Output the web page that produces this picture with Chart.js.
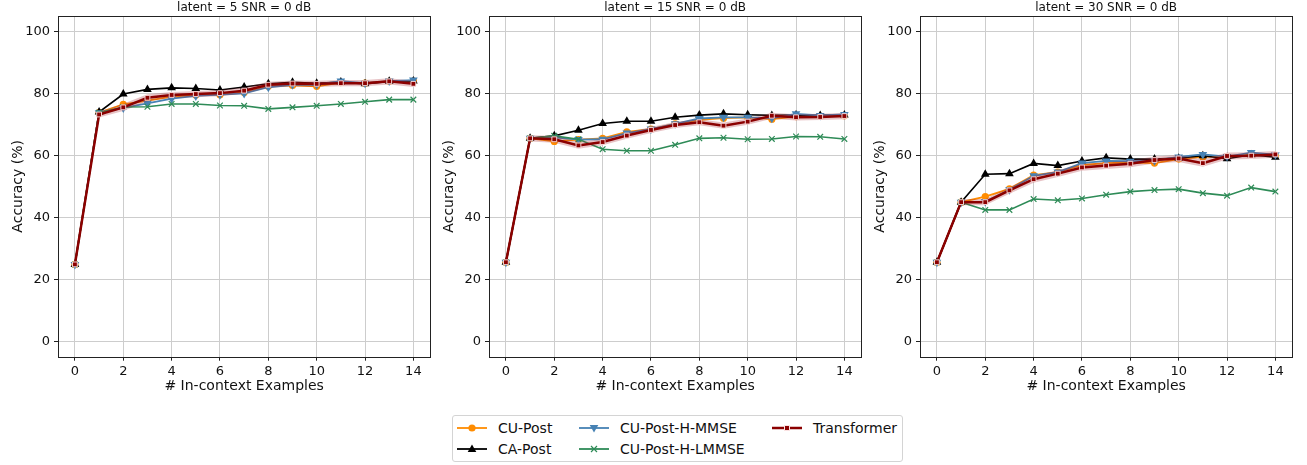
<!DOCTYPE html>
<html>
<head>
<meta charset="utf-8">
<script src="https://cdn.jsdelivr.net/npm/chart.js@4.4.1/dist/chart.umd.min.js"></script>
<style>
  body { margin: 0; background: #fff; }
  #wrap { position: relative; width: 1307px; height: 465px; overflow: hidden; font-family: 'DejaVu Sans', sans-serif; }
  #wrap canvas { position: absolute; top: 0; }
  #legend { position: absolute; left: 452px; top: 415px; width: 449px; height: 45px; border: 1px solid #d4d4d4; border-radius: 3px; background: #fff; }
  #legend .item { position: absolute; height: 16px; }
  #legend svg { position: absolute; top: 1px; }
  #legend span { position: absolute; font-size: 14px; line-height: 16px; color: #111; white-space: nowrap; }
</style>
</head>
<body>
<div id="wrap">
  <canvas id="c5" width="440" height="400" style="left:0px"></canvas>
  <canvas id="c15" width="440" height="400" style="left:431px"></canvas>
  <canvas id="c30" width="440" height="400" style="left:862px"></canvas>
  <div id="legend"></div>
</div>
<script>
var steps = [0, 1, 2, 3, 4, 5, 6, 7, 8, 9, 10, 11, 12, 13, 14];
var xTicks = [0, 2, 4, 6, 8, 10, 12, 14];
var yTicks = [0, 20, 40, 60, 80, 100];

// latent = 5
var cuPost5  = [24.8, 73.8, 76.5, 77.7, 79.0, 79.5, 79.6, 80.3, 82.3, 82.6, 82.3, 83.5, 83.3, 83.9, 84.0];
var caPost5  = [24.8, 74.0, 79.8, 81.3, 81.8, 81.6, 81.1, 82.1, 83.1, 83.6, 83.3, 83.7, 83.1, 83.9, 84.0];
var mmse5    = [24.8, 73.8, 75.3, 76.8, 78.3, 79.2, 79.6, 80.0, 82.0, 82.8, 82.8, 84.0, 83.3, 84.0, 84.3];
var lmmse5   = [24.8, 73.8, 75.6, 75.7, 76.6, 76.6, 76.1, 76.0, 75.0, 75.5, 76.0, 76.6, 77.3, 78.0, 78.0];
var trans5   = [24.8, 73.2, 75.5, 78.6, 79.5, 79.8, 80.1, 80.9, 82.8, 83.2, 83.1, 83.3, 83.3, 83.9, 83.1];
var band5    = [0.6, 1.0, 1.2, 1.1, 1.0, 1.0, 1.0, 1.0, 1.0, 1.0, 1.0, 1.0, 1.0, 1.0, 1.0];

// latent = 15
var cuPost15 = [25.5, 65.5, 64.5, 65.1, 65.5, 67.6, 68.5, 70.2, 71.5, 72.0, 72.3, 71.7, 72.5, 72.6, 72.8];
var caPost15 = [25.5, 65.5, 66.3, 68.1, 70.3, 71.0, 71.0, 72.3, 73.0, 73.4, 73.1, 72.9, 73.0, 72.9, 73.0];
var mmse15   = [25.5, 65.5, 65.8, 65.1, 65.2, 67.2, 68.5, 70.2, 71.9, 72.3, 72.3, 72.0, 73.4, 72.9, 73.2];
var lmmse15  = [25.5, 65.5, 66.3, 65.2, 62.0, 61.5, 61.5, 63.4, 65.5, 65.7, 65.2, 65.3, 66.1, 66.0, 65.3];
var trans15  = [25.5, 65.5, 65.2, 63.2, 64.3, 66.4, 68.2, 69.8, 70.7, 69.6, 70.9, 72.8, 72.3, 72.4, 72.7];
var band15   = [0.6, 1.0, 1.1, 1.1, 1.0, 1.0, 1.0, 1.0, 1.0, 1.0, 1.0, 1.0, 1.0, 1.0, 1.0];

// latent = 30
var cuPost30 = [25.5, 44.9, 46.7, 49.2, 53.6, 54.6, 56.9, 57.5, 57.7, 57.5, 58.8, 59.5, 59.6, 60.3, 60.0];
var caPost30 = [25.5, 44.9, 53.9, 54.1, 57.4, 56.7, 58.2, 59.2, 58.8, 58.8, 59.1, 59.9, 58.9, 60.2, 59.4];
var mmse30   = [25.5, 44.9, 45.1, 48.9, 53.4, 54.6, 57.5, 58.2, 58.1, 58.3, 59.5, 60.3, 59.6, 60.9, 60.2];
var lmmse30  = [25.5, 44.9, 42.4, 42.4, 45.9, 45.5, 46.1, 47.3, 48.3, 48.8, 49.1, 47.8, 47.0, 49.6, 48.3];
var trans30  = [25.5, 44.9, 44.9, 48.7, 52.3, 54.1, 56.1, 56.7, 57.3, 58.5, 59.0, 57.5, 59.8, 59.9, 60.3];
var band30   = [0.6, 1.0, 1.0, 1.1, 1.1, 1.1, 1.1, 1.1, 1.1, 1.1, 1.1, 1.2, 1.1, 1.1, 1.1];

var colors = {
    cuPost: '#ff8c00',
    caPost: '#000000',
    mmse: '#4682b4',
    lmmse: '#2e8b57',
    trans: '#8b0000'
};

Chart.defaults.font.family = "'DejaVu Sans', sans-serif";
Chart.defaults.color = '#111';
Chart.defaults.animation = false;

function pts(vals) {
    return steps.map(function (s, i) { return { x: s, y: vals[i] }; });
}

function offsetPts(vals, band, sign) {
    return steps.map(function (s, i) { return { x: s, y: vals[i] + sign * band[i] }; });
}

// panel title + full axes frame (matplotlib style spines)
var framePlugin = {
    id: 'frame',
    afterDraw: function (chart) {
        var a = chart.chartArea, ctx = chart.ctx;
        ctx.save();
        ctx.strokeStyle = '#222';
        ctx.lineWidth = 1;
        ctx.strokeRect(Math.round(a.left) + 0.5, Math.round(a.top) + 0.5,
            Math.round(a.right - a.left), Math.round(a.bottom - a.top));
        ctx.fillStyle = '#111';
        ctx.font = "12px 'DejaVu Sans'";
        ctx.textAlign = 'center';
        ctx.textBaseline = 'alphabetic';
        ctx.fillText(chart.options.plugins.frame.text, (a.left + a.right) / 2, a.top - 5.5);
        ctx.restore();
    }
};

function makePanel(id, title, cu, ca, mm, lm, tr, band) {
    return new Chart(document.getElementById(id), {
        type: 'line',
        data: {
            datasets: [
                {
                    label: 'CU-Post', data: pts(cu), order: 5,
                    borderColor: colors.cuPost, backgroundColor: colors.cuPost,
                    borderWidth: 1.8, pointStyle: 'circle', pointRadius: 3.6, pointBorderWidth: 0
                },
                {
                    label: 'CA-Post', data: pts(ca), order: 4,
                    borderColor: colors.caPost, backgroundColor: colors.caPost,
                    borderWidth: 1.6, pointStyle: 'triangle', pointRadius: 5, pointBorderWidth: 0
                },
                {
                    label: 'CU-Post-H-MMSE', data: pts(mm), order: 3,
                    borderColor: colors.mmse, backgroundColor: colors.mmse,
                    borderWidth: 1.8, pointStyle: 'triangle', pointRotation: 180, pointRadius: 5, pointBorderWidth: 0
                },
                {
                    label: 'CU-Post-H-LMMSE', data: pts(lm), order: 2,
                    borderColor: colors.lmmse, backgroundColor: colors.lmmse,
                    borderWidth: 1.6, pointStyle: 'crossRot', pointRadius: 4, pointBorderWidth: 1.2
                },
                {
                    label: 'band-upper', data: offsetPts(tr, band, 1), order: 1,
                    borderWidth: 0, pointRadius: 0, fill: false
                },
                {
                    label: 'band-lower', data: offsetPts(tr, band, -1), order: 1,
                    borderWidth: 0, pointRadius: 0, fill: '-1',
                    backgroundColor: 'rgba(170, 40, 50, 0.28)'
                },
                {
                    label: 'Transformer', data: pts(tr), order: 0,
                    borderColor: colors.trans, backgroundColor: colors.trans,
                    borderWidth: 2.5, pointStyle: 'rect', pointRadius: 3.4,
                    pointBorderWidth: 1, pointBorderColor: 'rgba(255,230,230,0.9)'
                }
            ]
        },
        options: {
            responsive: false,
            devicePixelRatio: 1,
            layout: { padding: { top: 16, right: 9.7, bottom: 0, left: 0 } },
            elements: { line: { tension: 0 } },
            plugins: {
                legend: { display: false },
                tooltip: { enabled: false },
                frame: { text: title }
            },
            scales: {
                x: {
                    type: 'linear', min: -0.7, max: 14.7,
                    afterFit: function (scale) { scale.height = 43.3; },
                    afterBuildTicks: function (scale) {
                        scale.ticks = xTicks.map(function (v) { return { value: v }; });
                    },
                    ticks: { font: { size: 13 }, padding: 3, maxRotation: 0, color: '#111' },
                    grid: { color: '#cdcdcd', lineWidth: 1, tickLength: 4, tickColor: '#222' },
                    border: { display: false },
                    title: {
                        display: true, text: '# In-context Examples',
                        font: { size: 14 }, padding: { top: 0, bottom: 5.5 }, color: '#111'
                    }
                },
                y: {
                    min: -5, max: 105,
                    afterFit: function (scale) { scale.width = 58; },
                    afterBuildTicks: function (scale) {
                        scale.ticks = yTicks.map(function (v) { return { value: v }; });
                    },
                    ticks: { font: { size: 13 }, padding: 4, color: '#111' },
                    grid: { color: '#cdcdcd', lineWidth: 1, tickLength: 4, tickColor: '#222' },
                    border: { display: false },
                    title: {
                        display: true, text: 'Accuracy (%)',
                        font: { size: 14 }, padding: { top: 9.6, bottom: 0 }, color: '#111'
                    }
                }
            }
        },
        plugins: [framePlugin]
    });
}

makePanel('c5', 'latent = 5 SNR = 0 dB', cuPost5, caPost5, mmse5, lmmse5, trans5, band5);
makePanel('c15', 'latent = 15 SNR = 0 dB', cuPost15, caPost15, mmse15, lmmse15, trans15, band15);
makePanel('c30', 'latent = 30 SNR = 0 dB', cuPost30, caPost30, mmse30, lmmse30, trans30, band30);

// legend (3 columns, matplotlib-like)
var legendItems = [
    { label: 'CU-Post', color: colors.cuPost, marker: 'circle', x: 4, row: 0, textX: 45 },
    { label: 'CA-Post', color: colors.caPost, marker: 'tri-up', x: 4, row: 1, textX: 45 },
    { label: 'CU-Post-H-MMSE', color: colors.mmse, marker: 'tri-down', x: 126, row: 0, textX: 167 },
    { label: 'CU-Post-H-LMMSE', color: colors.lmmse, marker: 'x', x: 126, row: 1, textX: 167 },
    { label: 'Transformer', color: colors.trans, marker: 'square', x: 319, row: 0, textX: 360 }
];
var rowCenters = [11.5, 33];

function markerSvg(kind, c) {
    var line = '<line x1="0" y1="7" x2="30" y2="7" stroke="' + c + '" stroke-width="' + (kind === 'square' ? 2.5 : 1.8) + '"/>';
    var m = '';
    if (kind === 'circle') m = '<circle cx="15" cy="7" r="3.6" fill="' + c + '"/>';
    if (kind === 'tri-up') m = '<polygon points="15,2.5 19.3,10 10.7,10" fill="' + c + '"/>';
    if (kind === 'tri-down') m = '<polygon points="15,11.5 19.3,4 10.7,4" fill="' + c + '"/>';
    if (kind === 'x') m = '<path d="M12,4 L18,10 M18,4 L12,10" stroke="' + c + '" stroke-width="1.2"/>';
    if (kind === 'square') m = '<rect x="12.5" y="4.5" width="5" height="5" fill="' + c + '" stroke="#fbe3e3" stroke-width="1"/>';
    return '<svg width="30" height="14" viewBox="0 0 30 14">' + line + m + '</svg>';
}

var legend = document.getElementById('legend');
legendItems.forEach(function (it) {
    var cy = rowCenters[it.row];
    var div = document.createElement('div');
    div.className = 'item';
    div.innerHTML = markerSvg(it.marker, it.color).replace('<svg ', '<svg style="left:' + it.x + 'px;top:' + (cy - 7) + 'px" ') +
        '<span style="left:' + it.textX + 'px;top:' + (cy - 8) + 'px">' + it.label + '</span>';
    legend.appendChild(div);
});
</script>
</body>
</html>
